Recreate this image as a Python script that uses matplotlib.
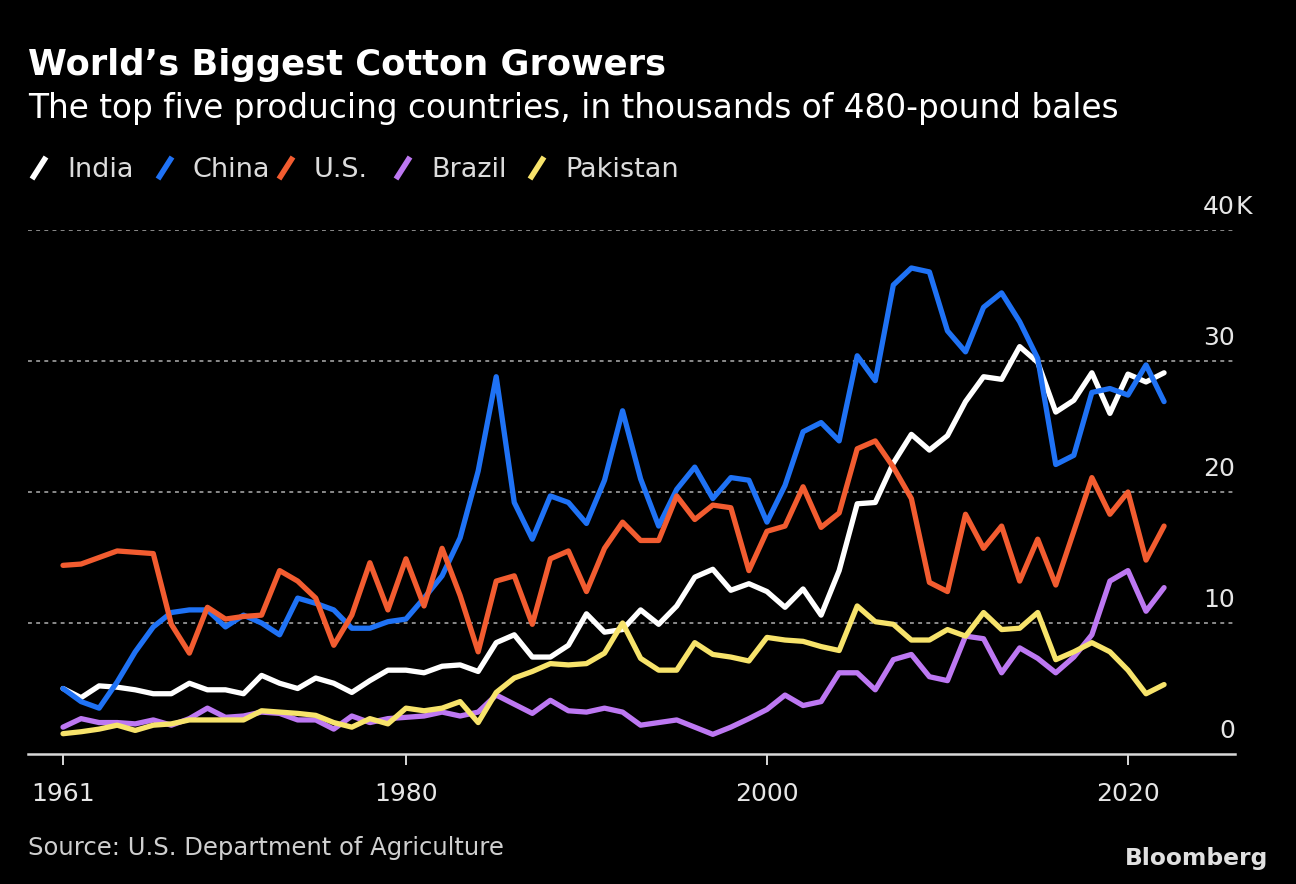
import matplotlib
matplotlib.use("Agg")
import matplotlib.pyplot as plt
from matplotlib.lines import Line2D

# ---------------- data (thousands of 480-lb bales) ----------------
years = list(range(1961, 2023))

india = [5.0, 4.3, 5.2, 5.1, 4.9, 4.6, 4.6, 5.4, 4.9, 4.9, 4.6, 6.0, 5.4, 5.0, 5.8, 5.4, 4.7, 5.6, 6.4, 6.4,
         6.2, 6.7, 6.8, 6.3, 8.5, 9.1, 7.4, 7.4, 8.3, 10.7, 9.3, 9.5, 11.0, 9.9, 11.3, 13.5, 14.1, 12.5, 13.0, 12.4,
         11.2, 12.6, 10.6, 14.0, 19.1, 19.2, 22.2, 24.4, 23.2, 24.3, 26.9, 28.8, 28.6, 31.1, 29.9, 26.1, 27.0, 29.1, 26.0, 29.0,
         28.4, 29.1]

china = [5.0, 4.0, 3.5, 5.5, 7.8, 9.7, 10.8, 11.0, 11.0, 9.7, 10.6, 10.0, 9.1, 11.9, 11.5, 11.0, 9.6, 9.6, 10.1, 10.3,
         11.9, 13.6, 16.5, 21.6, 28.8, 19.2, 16.4, 19.7, 19.2, 17.6, 20.9, 26.2, 21.0, 17.4, 20.2, 21.9, 19.5, 21.1, 20.9, 17.7,
         20.5, 24.6, 25.3, 23.9, 30.4, 28.5, 35.8, 37.1, 36.8, 32.3, 30.7, 34.1, 35.2, 33.0, 30.2, 22.1, 22.8, 27.6, 27.9, 27.4,
         29.7, 26.9]

us = [14.4, 14.5, 15.0, 15.5, 15.4, 15.3, 9.9, 7.7, 11.2, 10.3, 10.5, 10.6, 14.0, 13.2, 11.9, 8.3, 10.6, 14.6, 11.0, 14.9,
      11.3, 15.7, 12.1, 7.8, 13.2, 13.6, 9.9, 14.9, 15.5, 12.4, 15.7, 17.7, 16.3, 16.3, 19.7, 17.9, 19.0, 18.8, 14.0, 17.0,
      17.4, 20.4, 17.3, 18.4, 23.3, 23.9, 21.9, 19.5, 13.1, 12.4, 18.3, 15.7, 17.4, 13.2, 16.4, 12.9, 17.0, 21.1, 18.3, 20.0,
      14.8, 17.4]

brazil = [2.05, 2.7, 2.4, 2.4, 2.3, 2.6, 2.2, 2.7, 3.5, 2.8, 2.9, 3.2, 3.1, 2.6, 2.6, 1.9, 2.9, 2.4, 2.7, 2.8,
          2.9, 3.2, 2.9, 3.2, 4.5, 3.8, 3.1, 4.1, 3.3, 3.2, 3.5, 3.2, 2.2, 2.4, 2.6, 2.05, 1.5, 2.05, 2.7, 3.4,
          4.5, 3.7, 4.0, 6.2, 6.2, 4.9, 7.2, 7.6, 5.9, 5.6, 9.0, 8.8, 6.2, 8.1, 7.3, 6.2, 7.4, 9.1, 13.2, 14.0,
          10.9, 12.7]

pakistan = [1.55, 1.7, 1.9, 2.2, 1.8, 2.2, 2.3, 2.6, 2.6, 2.6, 2.6, 3.3, 3.2, 3.1, 2.95, 2.4, 2.05, 2.7, 2.3, 3.5,
            3.3, 3.5, 4.0, 2.4, 4.7, 5.8, 6.3, 6.9, 6.8, 6.9, 7.7, 10.0, 7.3, 6.4, 6.4, 8.5, 7.6, 7.4, 7.1, 8.9,
            8.7, 8.6, 8.2, 7.9, 11.3, 10.1, 9.9, 8.7, 8.7, 9.5, 9.0, 10.8, 9.5, 9.6, 10.8, 7.2, 7.8, 8.5, 7.8, 6.4,
            4.6, 5.3]

series_names = ["India", "China", "U.S.", "Brazil", "Pakistan"]
series_values = [india, china, us, brazil, pakistan]
series_colors = ["#ffffff", "#1f72f5", "#f25c30", "#bd78f2", "#f7e36b"]

x_ticks = [1961, 1980, 2000, 2020]
y_ticks = [0, 10, 20, 30, 40]
y_tick_labels = ["0", "10", "20", "30", "40"]

title = "World\u2019s Biggest Cotton Growers"
subtitle = "The top five producing countries, in thousands of 480-pound bales"
source = "Source: U.S. Department of Agriculture"

# ---------------- figure ----------------
W, H = 1296, 884
plt.rcParams["font.family"] = ["DejaVu Sans"]
fig = plt.figure(figsize=(W / 100, H / 100), dpi=100, facecolor="black")

def fx(px):
    return px / W

def fy(py):
    return 1 - py / H

ax = fig.add_axes([fx(28), fy(754), fx(1235) - fx(28), fy(230) - fy(754)])
ax.set_facecolor("black")

for name, vals, col in zip(series_names, series_values, series_colors):
    ax.plot(years, vals, color=col, lw=3.8, solid_joinstyle="round",
            solid_capstyle="round", zorder=3)

ax.set_xlim(1959.06, 2025.93)
ax.set_ylim(0, 40)

# grid lines
for v in y_ticks[1:]:
    ax.axhline(v, color="#8a8a8a", lw=1.4, ls=(0, (2, 2.2)), zorder=1)

# spines
for s in ["top", "right", "left"]:
    ax.spines[s].set_visible(False)
ax.spines["bottom"].set_color("#d8d8d8")
ax.spines["bottom"].set_linewidth(1.8)

ax.set_xticks(x_ticks)
ax.set_xticklabels([str(t) for t in x_ticks])
ax.tick_params(axis="x", colors="#d8d8d8", length=8, width=1.4, pad=12,
               labelsize=18, labelcolor="#e6e6e6")
ax.set_yticks([])

# y labels on the right, above gridlines
for v, lab in zip(y_ticks, y_tick_labels):
    ax.annotate(lab, xy=(1.0, v), xycoords=("axes fraction", "data"),
                xytext=(0, 16), textcoords="offset pixels",
                ha="right", va="baseline", fontsize=18, color="#e6e6e6")
ax.annotate("K", xy=(1.0, 40), xycoords=("axes fraction", "data"),
            xytext=(1, 16), textcoords="offset pixels",
            ha="left", va="baseline", fontsize=18, color="#e6e6e6")

# titles
fig.text(fx(28), fy(75), title, fontsize=25.4, fontweight="bold", color="white",
         ha="left", va="baseline")
fig.text(fx(28), fy(118), subtitle, fontsize=23.6, color="white",
         ha="left", va="baseline")

# legend
leg_text_x = [67, 193, 314, 431, 565]
for name, col, tx in zip(series_names, series_colors, leg_text_x):
    x0 = tx - 35
    fig.add_artist(Line2D([fx(x0), fx(x0 + 14)], [fy(179), fy(157)],
                          transform=fig.transFigure, color=col, lw=4,
                          solid_capstyle="butt"))
    fig.text(fx(tx), fy(177), name, fontsize=19.5, color="#dcdcdc",
             ha="left", va="baseline")

# footer
fig.text(fx(28), fy(855), source, fontsize=17.5, color="#cfcfcf",
         ha="left", va="baseline")
fig.text(fx(1268), fy(865), "Bloomberg", fontsize=16.8, fontweight="bold",
         color="#e0e0e0", ha="right", va="baseline")

fig.savefig("out.png", dpi=100, facecolor="black")
